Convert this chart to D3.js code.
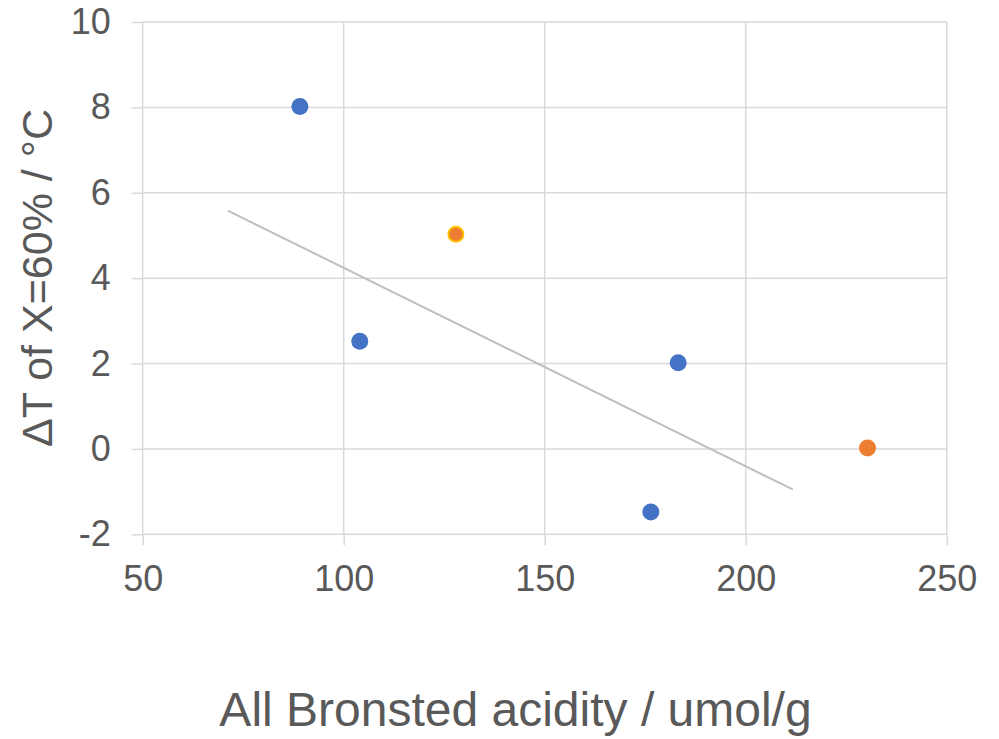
<!DOCTYPE html>
<html><head><meta charset="utf-8">
<script src="https://cdn.jsdelivr.net/npm/d3@7"></script>
<style>body{margin:0;background:#fff}svg{display:block}text{font-family:"Liberation Sans",Arial,sans-serif;fill:#595959}</style>
</head><body>
<svg id="c" width="999" height="739"></svg>
<script>
const xTicks = [50, 100, 150, 200, 250];
const yTicks = [-2, 0, 2, 4, 6, 8, 10];
const blueX = [89.1, 104.0, 176.4, 183.2];
const blueY = [8.02, 2.52, -1.48, 2.02];
const orangeX = [127.9, 230.3];
const orangeY = [5.03, 0.02];
const orangeOutline = ["#FFC000", "#ED7D31"];
const trendX = [71.2, 211.7];
const trendY = [5.58, -0.95];
const xTitle = "All Bronsted acidity / umol/g";
const yTitle = "\u0394T of X=60% / \u00B0C";

const svg = d3.select("#c");
const x = d3.scaleLinear().domain([50, 250]).range([142.7, 946.7]);
const y = d3.scaleLinear().domain([-2, 10]).range([534.3, 22]);
const grid = "#d9d9d9";

// gridlines
svg.append("g").selectAll("line").data(yTicks).join("line")
  .attr("x1", x(50)).attr("x2", x(250)).attr("y1", d => y(d)).attr("y2", d => y(d))
  .attr("stroke", grid).attr("stroke-width", 1.5);
svg.append("g").selectAll("line").data(xTicks).join("line")
  .attr("x1", d => x(d)).attr("x2", d => x(d)).attr("y1", y(10)).attr("y2", y(-2))
  .attr("stroke", grid).attr("stroke-width", 1.5);

// axes
const xa = svg.append("g").attr("transform", `translate(0,${y(-2)})`)
  .call(d3.axisBottom(x).tickValues(xTicks).tickSize(11).tickPadding(20).tickFormat(d => String(d)));
const ya = svg.append("g").attr("transform", `translate(${x(50)},0)`)
  .call(d3.axisLeft(y).tickValues(yTicks).tickSize(11).tickPadding(21).tickFormat(d => String(d)));
[xa, ya].forEach(a => {
  a.select(".domain").remove();
  a.selectAll(".tick line").attr("stroke", grid).attr("stroke-width", 1.5);
  a.selectAll(".tick text").attr("fill", "#595959").style("font-size", "36px")
    .style("font-family", '"Liberation Sans",Arial,sans-serif');
});

// trendline
svg.append("path")
  .datum(trendX.map((v, i) => [v, trendY[i]]))
  .attr("d", d3.line().x(d => x(d[0])).y(d => y(d[1])))
  .attr("fill", "none").attr("stroke", "#BFBFBF").attr("stroke-width", 2);

// points
svg.append("g").selectAll("circle").data(blueX.map((v, i) => [v, blueY[i]])).join("circle")
  .attr("cx", d => x(d[0])).attr("cy", d => y(d[1])).attr("r", 8.5).attr("fill", "#4472C4");
svg.append("g").selectAll("circle").data(orangeX.map((v, i) => [v, orangeY[i], orangeOutline[i]])).join("circle")
  .attr("cx", d => x(d[0])).attr("cy", d => y(d[1])).attr("r", 7.5).attr("fill", "#ED7D31")
  .attr("stroke", d => d[2]).attr("stroke-width", 2);

// titles
svg.append("text").attr("x", 515.5).attr("y", 726).attr("text-anchor", "middle")
  .style("font-size", "48px").text(xTitle);
svg.append("text").attr("transform", "translate(52,278) rotate(-90)").attr("text-anchor", "middle")
  .style("font-size", "43px").text(yTitle);
</script>
</body></html>
